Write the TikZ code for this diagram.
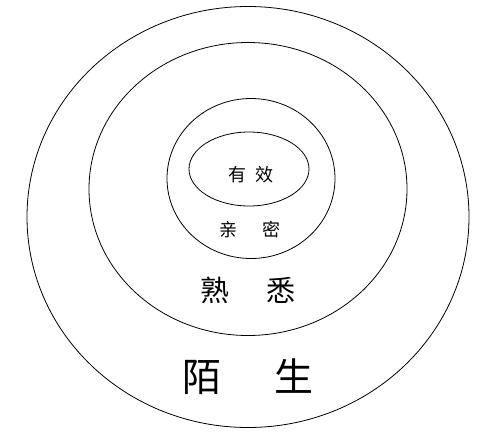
\documentclass[tikz,border=0pt]{standalone}
\usepackage{fontspec}
\newfontfamily\cjk{Noto Sans CJK SC}
\usetikzlibrary{shapes.geometric}

\begin{document}
\begin{tikzpicture}[
        x=1pt, y=-1pt,
        ring/.style={ellipse, draw, line width=0.8pt, inner sep=0pt},
        word/.style={inner sep=0pt, font=\cjk}
      ]
        \useasboundingbox (0,0) rectangle (500,434);
        % Four nested rings
        \node[ring, minimum width=442pt, minimum height=421pt] (stranger) at (248,217) {};
        \node[ring, minimum width=318pt, minimum height=293pt] (familiar) at (248,189) {};
        \node[ring, minimum width=168pt, minimum height=160pt] (intimate) at (251,178.5) {};
        \node[ring, minimum width=120pt, minimum height=74pt] (effective) at (249,169) {};

        % Labels
        \node[word, font=\cjk\fontsize{18}{18}\selectfont] (leffective) at (251,175) {有\hspace{0.5em}效};
        \node[word, font=\cjk\fontsize{18}{18}\selectfont] (lintimate) at (250,230) {亲\hspace{1.4em}密};
        \node[word, font=\cjk\fontsize{29}{29}\selectfont] (lfamiliar) at (248,290) {熟\hspace{1.3em}悉};
        \node[word, font=\cjk\fontsize{39}{39}\selectfont] (lstranger) at (248,377) {陌\hspace{1.35em}生};
      \end{tikzpicture}
\end{document}
